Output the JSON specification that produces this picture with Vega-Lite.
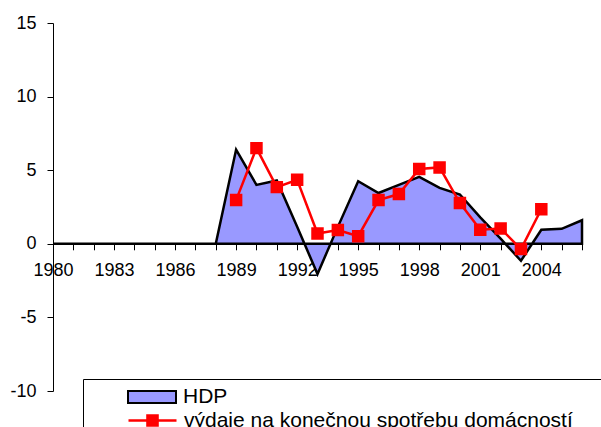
{
  "$schema": "https://vega.github.io/schema/vega-lite/v6.json",
  "width": 529,
  "height": 368,
  "autosize": "none",
  "padding": {"left": 53, "top": 23, "right": 19, "bottom": 36},
  "background": "white",
  "config": {
    "view": {"stroke": null},
    "font": "Liberation Sans",
    "axis": {"grid": false, "domainColor": "black", "tickColor": "black", "labelColor": "black", "labelFont": "Liberation Sans", "labelFontSize": 18, "tickSize": 6, "domainWidth": 1, "tickWidth": 1}
  },
  "data": {
    "values": [
      {"year": 1980, "series": "HDP", "value": 0},
      {"year": 1981, "series": "HDP", "value": 0},
      {"year": 1982, "series": "HDP", "value": 0},
      {"year": 1983, "series": "HDP", "value": 0},
      {"year": 1984, "series": "HDP", "value": 0},
      {"year": 1985, "series": "HDP", "value": 0},
      {"year": 1986, "series": "HDP", "value": 0},
      {"year": 1987, "series": "HDP", "value": 0},
      {"year": 1988, "series": "HDP", "value": 0},
      {"year": 1989, "series": "HDP", "value": 6.4},
      {"year": 1990, "series": "HDP", "value": 4.0},
      {"year": 1991, "series": "HDP", "value": 4.3},
      {"year": 1992, "series": "HDP", "value": 1.15},
      {"year": 1993, "series": "HDP", "value": -2.05},
      {"year": 1994, "series": "HDP", "value": 1.15},
      {"year": 1995, "series": "HDP", "value": 4.25},
      {"year": 1996, "series": "HDP", "value": 3.45},
      {"year": 1997, "series": "HDP", "value": 4.0},
      {"year": 1998, "series": "HDP", "value": 4.55},
      {"year": 1999, "series": "HDP", "value": 3.8},
      {"year": 2000, "series": "HDP", "value": 3.35},
      {"year": 2001, "series": "HDP", "value": 1.8},
      {"year": 2002, "series": "HDP", "value": 0.35},
      {"year": 2003, "series": "HDP", "value": -1.15},
      {"year": 2004, "series": "HDP", "value": 0.95},
      {"year": 2005, "series": "HDP", "value": 1.02},
      {"year": 2006, "series": "HDP", "value": 1.6},
      {"year": 1989, "series": "výdaje na konečnou spotřebu domácností", "value": 2.97},
      {"year": 1990, "series": "výdaje na konečnou spotřebu domácností", "value": 6.5},
      {"year": 1991, "series": "výdaje na konečnou spotřebu domácností", "value": 3.85},
      {"year": 1992, "series": "výdaje na konečnou spotřebu domácností", "value": 4.35},
      {"year": 1993, "series": "výdaje na konečnou spotřebu domácností", "value": 0.7},
      {"year": 1994, "series": "výdaje na konečnou spotřebu domácností", "value": 0.93},
      {"year": 1995, "series": "výdaje na konečnou spotřebu domácností", "value": 0.52},
      {"year": 1996, "series": "výdaje na konečnou spotřebu domácností", "value": 2.97},
      {"year": 1997, "series": "výdaje na konečnou spotřebu domácností", "value": 3.38},
      {"year": 1998, "series": "výdaje na konečnou spotřebu domácností", "value": 5.08},
      {"year": 1999, "series": "výdaje na konečnou spotřebu domácností", "value": 5.19},
      {"year": 2000, "series": "výdaje na konečnou spotřebu domácností", "value": 2.77},
      {"year": 2001, "series": "výdaje na konečnou spotřebu domácností", "value": 0.95},
      {"year": 2002, "series": "výdaje na konečnou spotřebu domácností", "value": 1.04},
      {"year": 2003, "series": "výdaje na konečnou spotřebu domácností", "value": -0.36},
      {"year": 2004, "series": "výdaje na konečnou spotřebu domácností", "value": 2.35}
    ]
  },
  "encoding": {
    "x": {
      "field": "year", "type": "quantitative",
      "scale": {"domain": [1980, 2006], "nice": false, "zero": false},
      "axis": {
        "title": null, "offset": -147.2,
        "values": [1980,1981,1982,1983,1984,1985,1986,1987,1988,1989,1990,1991,1992,1993,1994,1995,1996,1997,1998,1999,2000,2001,2002,2003,2004,2005,2006],
        "labelExpr": "(datum.value - 1980) % 3 == 0 && datum.value < 2006 ? toString(datum.value) : ''",
        "labelPadding": 12, "labelFlush": false, "labelOverlap": false
      }
    },
    "y": {
      "field": "value", "type": "quantitative",
      "scale": {"domain": [-10, 15], "nice": false},
      "axis": {"title": null, "values": [-10, -5, 0, 5, 10, 15], "labelExpr": "toString(datum.value)", "labelPadding": 11, "labelFlush": false}
    }
  },
  "layer": [
    {
      "transform": [{"filter": "datum.series === 'HDP'"}],
      "mark": {"type": "area", "stroke": "black", "strokeWidth": 2.5, "opacity": 1, "fillOpacity": 1},
      "encoding": {
        "fill": {
          "field": "series", "type": "nominal",
          "scale": {"domain": ["HDP"], "range": ["#9999FF"]},
          "legend": {
            "orient": "none", "legendX": 86, "legendY": 361, "title": null,
            "padding": 0, "symbolOffset": 0, "labelOffset": 18,
            "symbolType": "M-2,-0.5H2V0.5H-2Z", "symbolSize": 576,
            "symbolStrokeColor": "black", "symbolStrokeWidth": 2, "symbolFillColor": "#9999FF", "symbolOpacity": 1,
            "labelFont": "Liberation Sans", "labelFontSize": 21, "labelLimit": 1000, "labelColor": "black"
          }
        }
      }
    },
    {
      "transform": [{"filter": "datum.series !== 'HDP'"}],
      "mark": {"type": "line", "strokeWidth": 2.5, "point": {"shape": "square", "size": 110, "filled": true, "color": "#FF0000", "opacity": 1}},
      "encoding": {
        "stroke": {
          "field": "series", "type": "nominal",
          "scale": {"domain": ["výdaje na konečnou spotřebu domácností"], "range": ["#FF0000"]},
          "legend": {
            "orient": "none", "legendX": 30, "legendY": 356, "title": null,
            "strokeColor": "black", "padding": 28, "symbolOffset": 28, "labelOffset": 18,
            "symbolType": "M-2,0H2M-0.42,-0.42H0.42V0.42H-0.42Z", "symbolSize": 576,
            "symbolStrokeWidth": 2.5, "symbolFillColor": "#FF0000", "symbolStrokeColor": "#FF0000", "symbolOpacity": 1,
            "labelFont": "Liberation Sans", "labelFontSize": 21, "labelLimit": 1000, "labelColor": "black"
          }
        }
      }
    }
  ]
}
